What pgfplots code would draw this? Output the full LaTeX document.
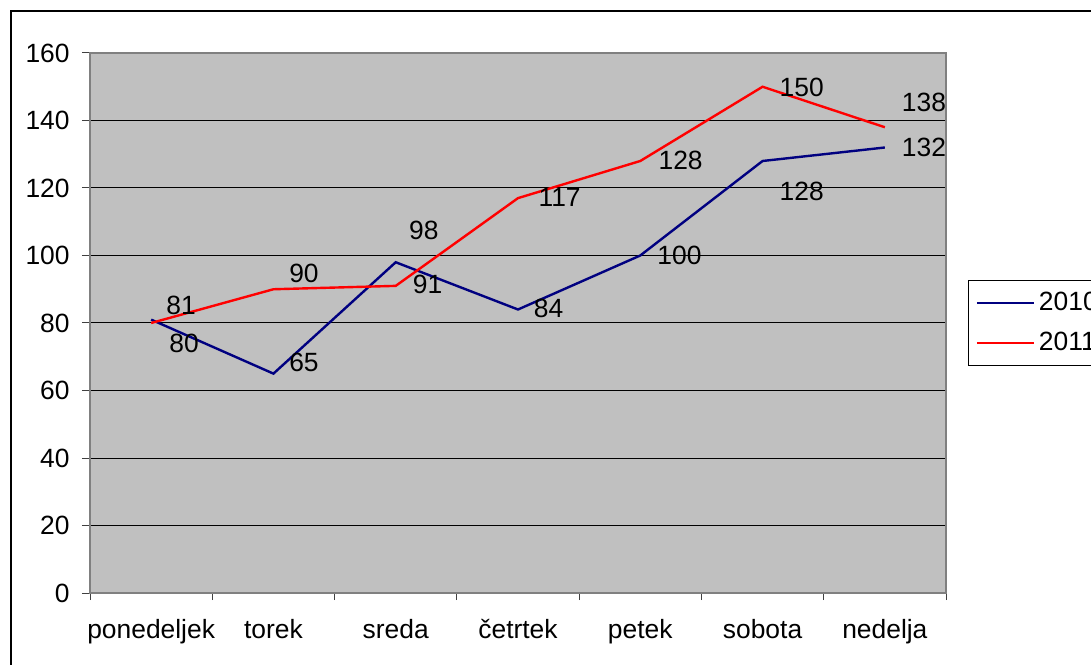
\documentclass[border=0pt]{standalone}
\usepackage{pgfplots}
\pgfplotsset{compat=1.18}
\usepackage{fontspec}
\setmainfont{Liberation Sans}
\definecolor{plotgray}{HTML}{C0C0C0}
\definecolor{navyline}{HTML}{000080}
\newcommand{\lblfont}{\fontsize{13.2}{15.8}\selectfont}
\begin{document}
\lblfont
\begin{tikzpicture}
\useasboundingbox (0pt,0pt) rectangle (545.5pt,332pt);
\draw[black, line width=0.6pt] (5.5pt,-5pt) -- (5.5pt,326.5pt) -- (560pt,326.5pt);
\begin{axis}[
  at={(45pt,35.5pt)}, anchor=south west,
  scale only axis, width=428pt, height=270pt,
  xmin=-0.5, xmax=6.5, ymin=0, ymax=160,
  xtick={0,...,6},
  xticklabels={ponedeljek,torek,sreda,četrtek,petek,sobota,nedelja},
  minor xtick={-0.5,0.5,...,6.5},
  ytick={0,20,...,160},
  xtick pos=bottom, ytick pos=left,
  tick align=outside, major tick length=4pt, minor tick length=3.5pt,
  every major x tick/.append style={draw=none},
  tick style={black!75, line width=0.5pt},
  ymajorgrids, grid style={black, line width=0.5pt},
  axis background/.style={fill=plotgray},
  axis line style={draw=black!50, line width=0.8pt},
  clip=false,
  /pgf/number format/assume math mode=true,
  ticklabel style={font=\lblfont},
  yticklabel style={anchor=east, inner sep=0pt, xshift=-6pt},
  xticklabel style={anchor=north, inner sep=0pt, text height=0.75em, text depth=0.25em, yshift=-8.6pt},
  legend style={at={(1.0257,0.5796)}, anchor=north west, draw=black, fill=white,
    line width=0.6pt, inner xsep=3.5pt, inner ysep=3.5pt, row sep=5pt, font=\lblfont,
    cells={anchor=west}},
  legend image code/.code={\draw[#1] (0pt,0pt) -- (28.5pt,0pt);},
]
\addplot[navyline, line width=1.2pt] coordinates {(0,81) (1,65) (2,98) (3,84) (4,100) (5,128) (6,132)};
\addlegendentry{2010}
\addplot[red, line width=1.2pt] coordinates {(0,80) (1,90) (2,91) (3,117) (4,128) (5,150) (6,138)};
\addlegendentry{2011}
\node[font=\lblfont] at (axis cs:0.245,85.3) {81};
\node[font=\lblfont] at (axis cs:0.27,74.1) {80};
\node[font=\lblfont] at (axis cs:1.25,68.4) {65};
\node[font=\lblfont] at (axis cs:1.25,94.8) {90};
\node[font=\lblfont] at (axis cs:2.23,107.3) {98};
\node[font=\lblfont] at (axis cs:2.26,91.3) {91};
\node[font=\lblfont] at (axis cs:3.25,84.4) {84};
\node[font=\lblfont] at (axis cs:3.34,117.3) {117};
\node[font=\lblfont] at (axis cs:4.32,100.1) {100};
\node[font=\lblfont] at (axis cs:4.33,128.3) {128};
\node[font=\lblfont] at (axis cs:5.32,149.9) {150};
\node[font=\lblfont] at (axis cs:5.32,119.1) {128};
\node[font=\lblfont] at (axis cs:6.32,145.5) {138};
\node[font=\lblfont] at (axis cs:6.32,132.1) {132};
\end{axis}
\end{tikzpicture}
\end{document}
